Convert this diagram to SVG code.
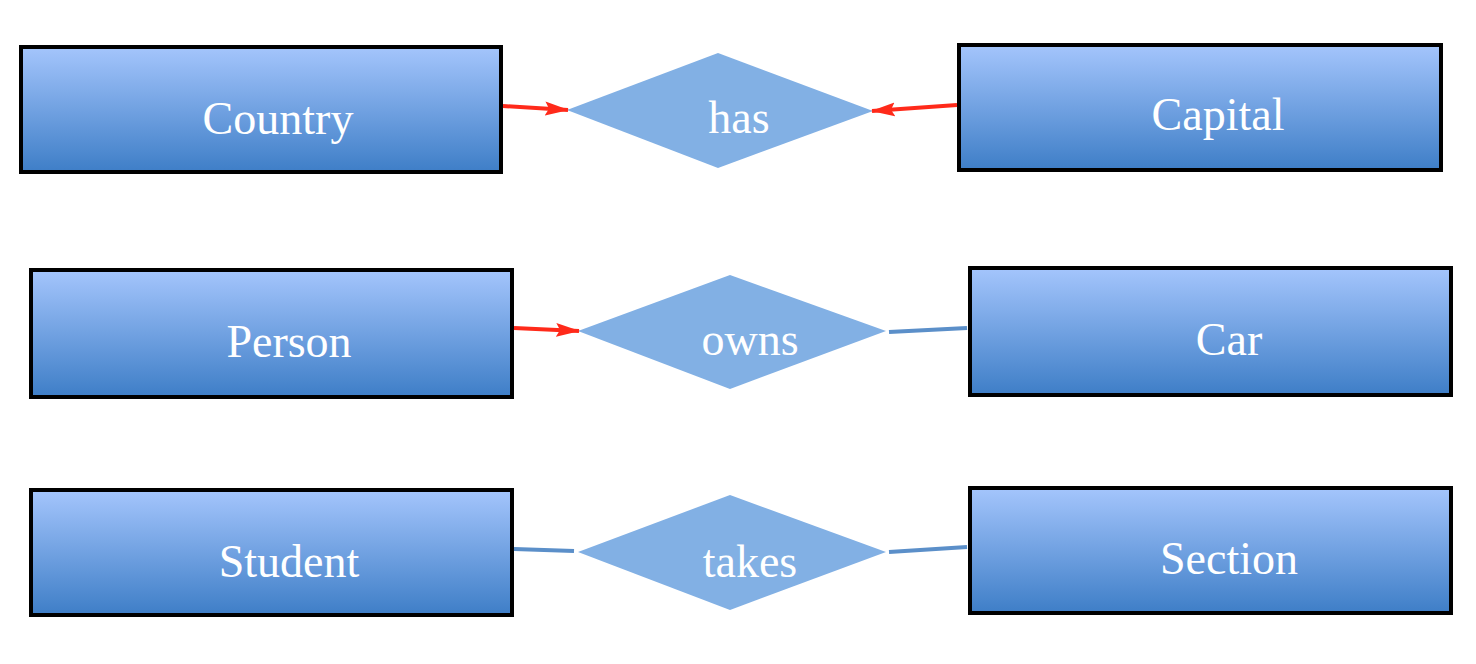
<svg xmlns="http://www.w3.org/2000/svg" width="1476" height="664" viewBox="0 0 1476 664">
<defs>
<linearGradient id="g" x1="0" y1="0" x2="0" y2="1">
<stop offset="0" stop-color="#a4c5fc"/>
<stop offset="1" stop-color="#3e7ec7"/>
</linearGradient>
<marker id="ah" viewBox="0 0 24 16" refX="23" refY="8" markerWidth="24" markerHeight="16" orient="auto" markerUnits="userSpaceOnUse">
<path d="M0,1 L24,8 L0,15 L4,8 Z" fill="#ff2a1a"/>
</marker>
<style>
.ent rect{fill:url(#g);stroke:#000;stroke-width:4}
.rel polygon{fill:#82b0e4}
text{font-family:"Liberation Serif","Times New Roman",serif;font-size:46px;fill:#fff;text-anchor:middle}
.red{stroke:#ff2a1a;stroke-width:4;fill:none;marker-end:url(#ah)}
.blue{stroke:#5b8fc9;stroke-width:4;fill:none}
</style>
</defs>
<rect width="1476" height="664" fill="#fff"/>
<g id="country" class="ent"><rect x="21" y="47" width="480" height="125"/><text x="278" y="134">Country</text></g>
<g id="capital" class="ent"><rect x="959" y="45" width="482" height="125"/><text x="1218" y="130">Capital</text></g>
<g id="person" class="ent"><rect x="31" y="270" width="481" height="127"/><text x="289" y="357">Person</text></g>
<g id="car" class="ent"><rect x="970" y="268" width="481" height="127"/><text x="1229" y="355">Car</text></g>
<g id="student" class="ent"><rect x="31" y="490" width="481" height="125"/><text x="289" y="577">Student</text></g>
<g id="section" class="ent"><rect x="970" y="488" width="481" height="125"/><text x="1229" y="574">Section</text></g>
<g id="has" class="rel"><polygon points="567,110 718,53 873,111 718,168"/><text x="739" y="133">has</text></g>
<g id="owns" class="rel"><polygon points="578,331 730,275 886,331 730,389"/><text x="750" y="355">owns</text></g>
<g id="takes" class="rel"><polygon points="578,552 730,495 886,552 730,610"/><text x="750" y="577">takes</text></g>
<g id="connectors">
<line class="red" x1="503" y1="106" x2="568" y2="110"/>
<line class="red" x1="957" y1="105" x2="872" y2="111"/>
<line class="red" x1="514" y1="328" x2="579" y2="331"/>
<line class="blue" x1="889" y1="332" x2="967" y2="328"/>
<line class="blue" x1="514" y1="549" x2="574" y2="551"/>
<line class="blue" x1="889" y1="552" x2="967" y2="547"/>
</g>
</svg>
